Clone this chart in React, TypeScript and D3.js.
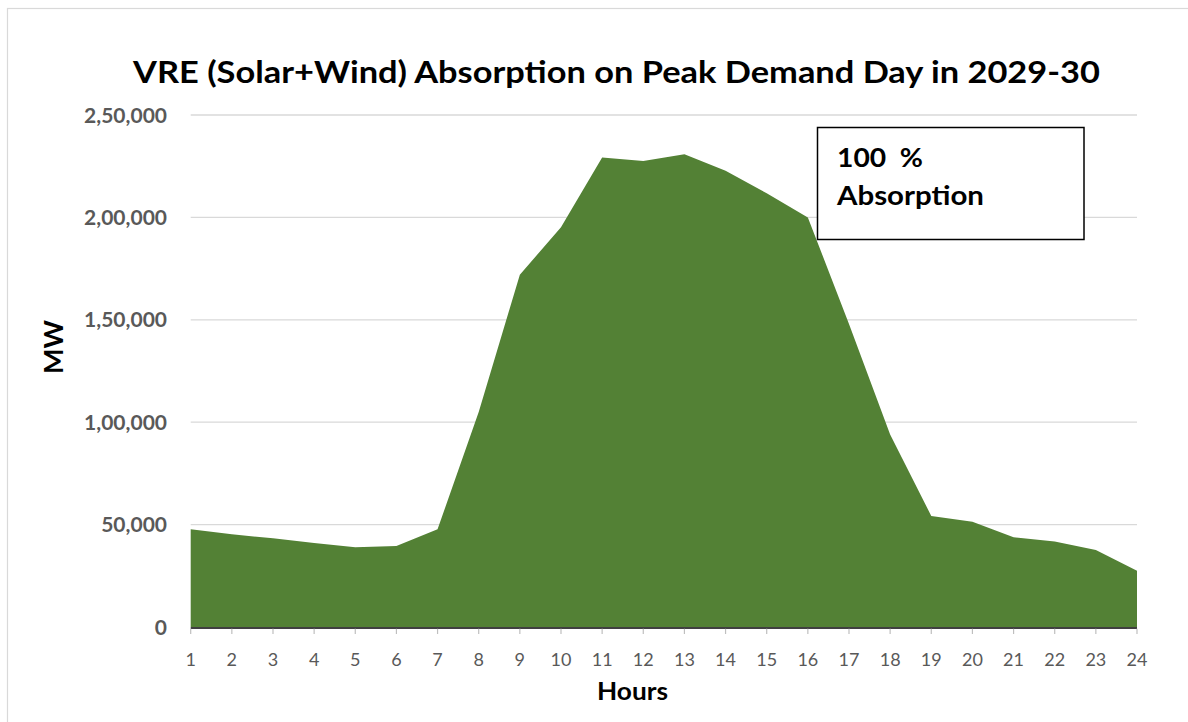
import React from "react";
import * as d3 from "d3";

const hours: number[] = [1, 2, 3, 4, 5, 6, 7, 8, 9, 10, 11, 12, 13, 14, 15, 16, 17, 18, 19, 20, 21, 22, 23, 24];
const vreMW: number[] = [47700, 45300, 43300, 41000, 38900, 39500, 47700, 105000, 172000, 195200, 229200, 227500, 230800, 222800, 211800, 200000, 148000, 94000, 54200, 51400, 43800, 41800, 37600, 27500];
const yTicks: number[] = [0, 50000, 100000, 150000, 200000, 250000];
const yTickLabels: string[] = ["0", "50,000", "1,00,000", "1,50,000", "2,00,000", "2,50,000"];

const title = "VRE (Solar+Wind) Absorption on Peak Demand Day in 2029-30";
const xTitle = "Hours";
const yTitle = "MW";
const noteLines: string[] = ["100  %", "Absorption"];

const W = 1188;
const H = 722;
const FONT = "Lato, 'Open Sans', sans-serif";

export default function App() {
  const x = d3.scaleLinear().domain([1, 24]).range([190.7, 1137]);
  const y = d3.scaleLinear().domain([0, 250000]).range([627, 115]);

  const area = d3
    .area<number>()
    .x((_, i) => x(hours[i]))
    .y0(y(0))
    .y1((d) => y(d));

  return (
    <svg
      width={W}
      height={H}
      style={{ position: "absolute", left: 0, top: 0, background: "#fff" }}
    >
      <rect x={0} y={0} width={W} height={H} fill="#fff" />
      <rect x={7.5} y={8.5} width={1400} height={900} fill="none" stroke="#d9d9d9" strokeWidth={1.2} />

      <text
        x={133}
        y={83}
        textLength={967}
        lengthAdjust="spacingAndGlyphs"
        fontFamily={FONT}
        fontWeight="bold"
        fontSize={31}
        fill="#000"
      >
        {title}
      </text>

      {yTicks.map((t, i) => (
        <g key={t}>
          {t > 0 && (
            <line x1={x(1)} x2={x(24)} y1={y(t)} y2={y(t)} stroke="#d9d9d9" strokeWidth={1.3} />
          )}
          <text
            x={167}
            y={y(t)}
            dy="0.36em"
            textAnchor="end"
            fontFamily={FONT}
            fontWeight="bold"
            fontSize={21}
            fill="#595959"
          >
            {yTickLabels[i]}
          </text>
        </g>
      ))}

      <path d={area(vreMW) || ""} fill="#538135" />

      <line x1={x(1)} x2={x(24)} y1={628} y2={628} stroke="#000" strokeWidth={1.5} />
      {hours.map((h) => (
        <g key={h}>
          <line x1={x(h)} x2={x(h)} y1={628.8} y2={634} stroke="#bfbfbf" strokeWidth={1.2} />
          <text x={x(h)} y={666} textAnchor="middle" fontFamily={FONT} fontSize={18} fill="#595959">
            {h}
          </text>
        </g>
      ))}

      <text
        x={597}
        y={700}
        textLength={71}
        lengthAdjust="spacingAndGlyphs"
        fontFamily={FONT}
        fontWeight="bold"
        fontSize={24}
        fill="#000"
      >
        {xTitle}
      </text>
      <text
        transform={`translate(63,347) rotate(-90)`}
        textAnchor="middle"
        fontFamily={FONT}
        fontWeight="bold"
        fontSize={27}
        fill="#000"
      >
        {yTitle}
      </text>

      <rect x={817.5} y={127.5} width={266.5} height={112} fill="#fff" stroke="#000" strokeWidth={1.5} />
      <text
        x={837}
        y={167}
        textLength={86}
        lengthAdjust="spacingAndGlyphs"
        style={{ whiteSpace: "pre" }}
        fontFamily={FONT}
        fontWeight="bold"
        fontSize={26}
        fill="#000"
      >
        {noteLines[0]}
      </text>
      <text
        x={837}
        y={205}
        textLength={147}
        lengthAdjust="spacingAndGlyphs"
        fontFamily={FONT}
        fontWeight="bold"
        fontSize={26}
        fill="#000"
      >
        {noteLines[1]}
      </text>
    </svg>
  );
}
